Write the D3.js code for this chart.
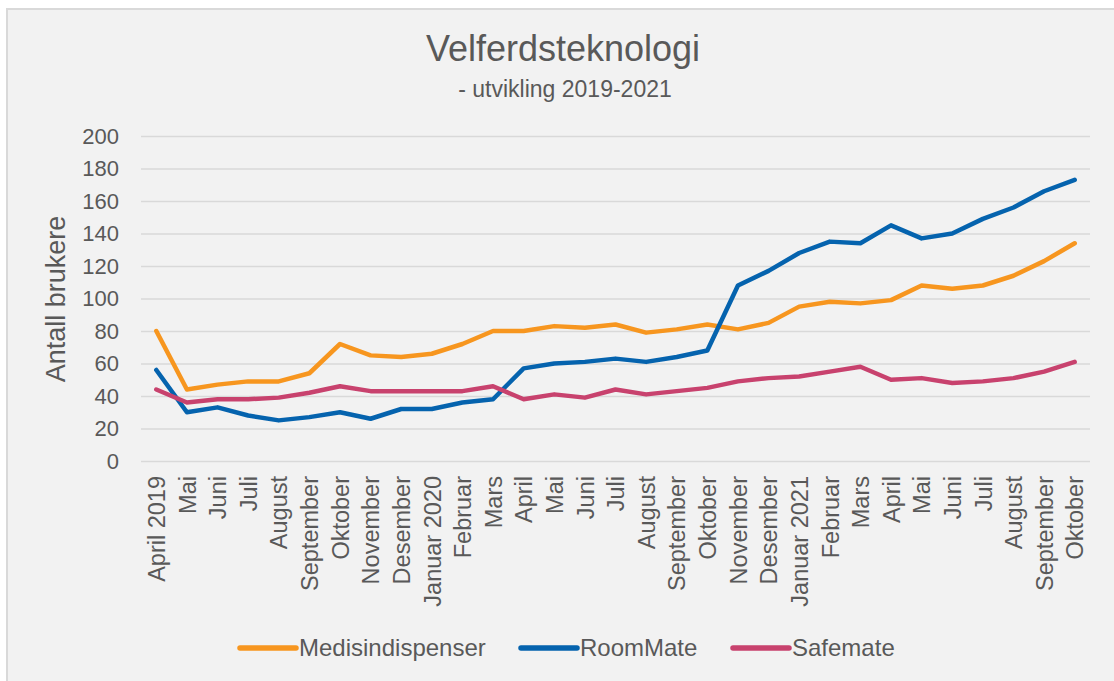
<!DOCTYPE html>
<html lang="no">
<head>
<meta charset="utf-8">
<title>Velferdsteknologi</title>
<style>
  body { margin: 0; background: #fff; }
  svg text { font-family: "Liberation Sans", Arial, sans-serif; fill: #595959; }
  .grid line { stroke: #d9d9d9; stroke-width: 1.5px; }
</style>
</head>
<body>
<svg width="1114" height="681"></svg>
<script src="https://cdn.jsdelivr.net/npm/d3@7"></script>
<script>
// months, April 2019 - Oktober 2021
var months = ['April 2019', 'Mai', 'Juni', 'Juli', 'August', 'September', 'Oktober',
  'November', 'Desember', 'Januar 2020', 'Februar', 'Mars', 'April', 'Mai', 'Juni',
  'Juli', 'August', 'September', 'Oktober', 'November', 'Desember', 'Januar 2021',
  'Februar', 'Mars', 'April', 'Mai', 'Juni', 'Juli', 'August', 'September', 'Oktober'];

var medisindispenser = [80, 44, 47, 49, 49, 54, 72, 65, 64, 66, 72, 80, 80, 83, 82, 84,
  79, 81, 84, 81, 85, 95, 98, 97, 99, 108, 106, 108, 114, 123, 134];
var roomMate = [56, 30, 33, 28, 25, 27, 30, 26, 32, 32, 36, 38, 57, 60, 61, 63,
  61, 64, 68, 108, 117, 128, 135, 134, 145, 137, 140, 149, 156, 166, 173];
var safemate = [44, 36, 38, 38, 39, 42, 46, 43, 43, 43, 43, 46, 38, 41, 39, 44,
  41, 43, 45, 49, 51, 52, 55, 58, 50, 51, 48, 49, 51, 55, 61];

var seriesNames = ['Medisindispenser', 'RoomMate', 'Safemate'];
var yTicks = [0, 20, 40, 60, 80, 100, 120, 140, 160, 180, 200];

var series = [
  { name: seriesNames[0], values: medisindispenser, color: '#f7961f' },
  { name: seriesNames[1], values: roomMate, color: '#0563ae' },
  { name: seriesNames[2], values: safemate, color: '#c8426e' }
];

var svg = d3.select('svg');

// chart frame
svg.append('rect')
  .attr('x', 7).attr('y', 9)
  .attr('width', 1130).attr('height', 700)
  .attr('fill', '#f2f2f2')
  .attr('stroke', '#d9d9d9')
  .attr('stroke-width', 2);

// plot area (note: "top" is taken by window.top)
var plotLeft = 141, plotRight = 1090, plotTop = 136, plotBottom = 461;

var x = d3.scalePoint()
  .domain(d3.range(months.length))
  .range([plotLeft, plotRight])
  .padding(0.5);

var y = d3.scaleLinear()
  .domain([0, 200])
  .range([plotBottom, plotTop]);

// titles
svg.append('text')
  .attr('x', 563).attr('y', 61)
  .attr('text-anchor', 'middle')
  .style('font-size', '36px')
  .text('Velferdsteknologi');

svg.append('text')
  .attr('x', 565).attr('y', 97)
  .attr('text-anchor', 'middle')
  .style('font-size', '23px')
  .text('- utvikling 2019-2021');

// y axis + gridlines
var yAxis = svg.append('g')
  .attr('class', 'grid')
  .attr('transform', 'translate(' + plotLeft + ',0)')
  .call(d3.axisLeft(y).tickValues(yTicks).tickSize(-(plotRight - plotLeft)).tickPadding(22));
yAxis.select('.domain').remove();
yAxis.selectAll('text').style('font-size', '22px');

svg.append('text')
  .attr('transform', 'translate(65,299) rotate(-90)')
  .attr('text-anchor', 'middle')
  .style('font-size', '27px')
  .text('Antall brukere');

// x axis
var xAxis = svg.append('g')
  .attr('transform', 'translate(0,' + plotBottom + ')')
  .call(d3.axisBottom(x).tickSize(0).tickFormat(function(i) { return months[i]; }));
xAxis.select('.domain').remove();
xAxis.selectAll('text')
  .attr('transform', 'rotate(-90)')
  .attr('text-anchor', 'end')
  .attr('x', -15)
  .attr('y', 0)
  .attr('dy', '0.35em')
  .style('font-size', '23.5px');

// lines
var line = d3.line()
  .x(function(d, i) { return x(i); })
  .y(function(d) { return y(d); });

svg.append('g')
  .selectAll('path')
  .data(series)
  .enter()
  .append('path')
  .attr('d', function(d) { return line(d.values); })
  .attr('fill', 'none')
  .attr('stroke', function(d) { return d.color; })
  .attr('stroke-width', 4.5)
  .attr('stroke-linejoin', 'round')
  .attr('stroke-linecap', 'round');

// legend
var legendX = [240, 521, 733];
var legend = svg.append('g')
  .selectAll('g')
  .data(series)
  .enter()
  .append('g')
  .attr('transform', function(d, i) { return 'translate(' + legendX[i] + ',648)'; });

legend.append('line')
  .attr('x1', 0).attr('x2', 56)
  .attr('stroke', function(d) { return d.color; })
  .attr('stroke-width', 5.5)
  .attr('stroke-linecap', 'round');

legend.append('text')
  .attr('x', 59)
  .attr('y', 8)
  .style('font-size', '24px')
  .text(function(d) { return d.name; });
</script>
</body>
</html>
